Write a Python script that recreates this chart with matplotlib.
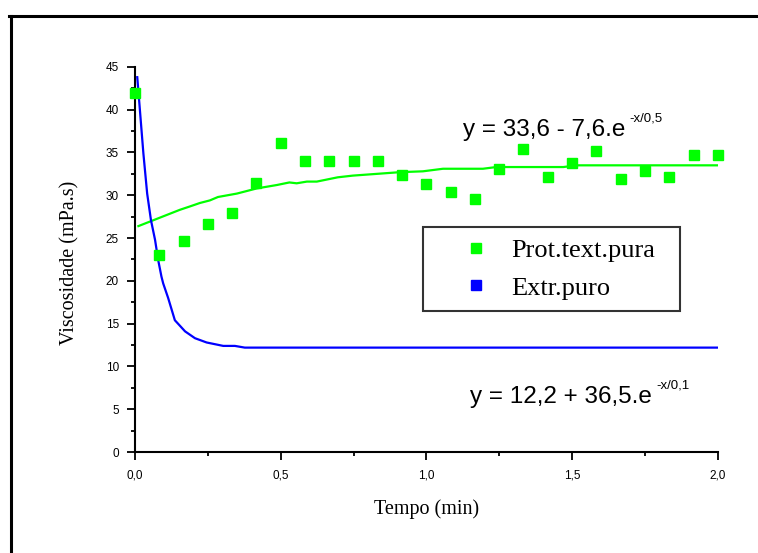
import matplotlib.pyplot as plt
from matplotlib.lines import Line2D
from matplotlib.ticker import MultipleLocator

# Prot.text.pura measured points
tempo_prot = [0.0, 0.083, 0.167, 0.25, 0.333, 0.417, 0.5, 0.583, 0.667, 0.75, 0.833, 0.917,
              1.0, 1.083, 1.167, 1.25, 1.333, 1.417, 1.5, 1.583, 1.667, 1.75, 1.833, 1.917, 2.0]
visc_prot = [42.0, 23.0, 24.6, 26.6, 27.9, 31.4, 36.1, 34.0, 34.0, 34.0, 34.0, 32.4,
             31.3, 30.4, 29.6, 33.1, 35.4, 32.1, 33.8, 35.2, 31.9, 32.8, 32.1, 34.7, 34.7]

# fitted curve for Prot.text.pura
tempo_fit_prot = [0.012, 0.154, 0.189, 0.223, 0.257, 0.285, 0.35, 0.418, 0.487, 0.53, 0.555,
                  0.59, 0.624, 0.696, 0.748, 0.829, 0.909, 0.988, 1.057, 1.194, 1.24, 1.47,
                  1.516, 2.0]
visc_fit_prot = [26.4, 28.3, 28.7, 29.1, 29.4, 29.8, 30.2, 30.8, 31.2, 31.5, 31.4,
                 31.6, 31.6, 32.1, 32.3, 32.5, 32.7, 32.8, 33.1, 33.1, 33.3, 33.3,
                 33.5, 33.5]

# fitted curve for Extr.puro
tempo_fit_extr = [0.008, 0.017, 0.029, 0.042, 0.055, 0.069, 0.08, 0.091, 0.097, 0.114,
                  0.137, 0.172, 0.206, 0.246, 0.303, 0.343, 0.377, 2.0]
visc_fit_extr = [43.8, 40.0, 34.9, 30.2, 27.1, 24.8, 22.4, 20.5, 19.7, 18.0,
                 15.4, 14.1, 13.3, 12.8, 12.4, 12.4, 12.2, 12.2]

xticks = [0.0, 0.5, 1.0, 1.5, 2.0]
xtick_labels = ['0,0', '0,5', '1,0', '1,5', '2,0']
yticks = [0, 5, 10, 15, 20, 25, 30, 35, 40, 45]

verde = '#00ff00'
azul = '#0000ff'

fig = plt.figure(figsize=(7.58, 5.53), dpi=100)
ax = fig.add_axes([0.178, 0.1826, 0.769, 0.6964])

ax.plot(tempo_fit_prot, visc_fit_prot, color=verde, lw=1.6, zorder=2)
ax.plot(tempo_fit_extr, visc_fit_extr, color=azul, lw=1.6, zorder=2)
ax.plot(tempo_prot, visc_prot, ls='none', marker='s', ms=6.5, color=verde, zorder=3,
        clip_on=False)

ax.set_xlim(0, 2.0)
ax.set_ylim(0, 45)
ax.set_xticks(xticks)
ax.set_xticklabels(xtick_labels)
ax.set_yticks(yticks)
ax.xaxis.set_minor_locator(MultipleLocator(0.25))
ax.yaxis.set_minor_locator(MultipleLocator(2.5))

for s in ['top', 'right']:
    ax.spines[s].set_visible(False)
for s in ['left', 'bottom']:
    ax.spines[s].set_linewidth(1.5)

ax.tick_params(which='major', direction='out', length=5.5, width=1.3, labelsize=8.5,
               labelfontfamily='Liberation Sans')
ax.tick_params(which='minor', direction='out', length=3, width=1.3)
ax.tick_params(axis='x', which='major', pad=7)
ax.tick_params(axis='y', which='major', pad=6)

ax.set_xlabel('Tempo (min)', fontfamily='Liberation Serif', fontsize=14.5, labelpad=13)
ax.set_ylabel('Viscosidade (mPa.s)', fontfamily='Liberation Serif', fontsize=14.5, labelpad=19)
ax.yaxis.label.set_y(0.49)

# equations
t1 = ax.text(1.125, 36.9, 'y = 33,6 - 7,6.e', fontfamily='Liberation Sans',
             fontsize=17.5, ha='left', va='baseline')
ax.annotate('-x/0,5', xy=(1, 1), xycoords=t1, xytext=(3, -4), textcoords='offset points',
            fontfamily='Liberation Sans', fontsize=9.5, ha='left', va='bottom')
t2 = ax.text(1.15, 5.75, 'y = 12,2 + 36,5.e', fontfamily='Liberation Sans',
             fontsize=17.5, ha='left', va='baseline')
ax.annotate('-x/0,1', xy=(1, 1), xycoords=t2, xytext=(3, -4), textcoords='offset points',
            fontfamily='Liberation Sans', fontsize=9.5, ha='left', va='bottom')

handles = [Line2D([], [], ls='none', marker='s', ms=7, color=verde),
           Line2D([], [], ls='none', marker='s', ms=7, color=azul)]
leg = ax.legend(handles, ['Prot.text.pura', 'Extr.puro'], loc='upper left', mode='expand',
                bbox_to_anchor=(423 / 758, 1 - 310 / 553, 257 / 758, 83 / 553),
                bbox_transform=fig.transFigure,
                prop={'family': 'Liberation Serif', 'size': 19}, frameon=True, fancybox=False,
                edgecolor='black', borderpad=0.45, handlelength=3.15, handletextpad=-0.25,
                labelspacing=0.52, borderaxespad=0)
leg.get_frame().set_linewidth(1.5)

# outer frame
fig.add_artist(Line2D([10.5 / 758, 10.5 / 758], [0, 1 - 15.5 / 553], color='black', lw=2.2))
fig.add_artist(Line2D([9 / 758, 1], [1 - 15.5 / 553, 1 - 15.5 / 553], color='black', lw=2.2))

fig.savefig('out.png', dpi=100)
